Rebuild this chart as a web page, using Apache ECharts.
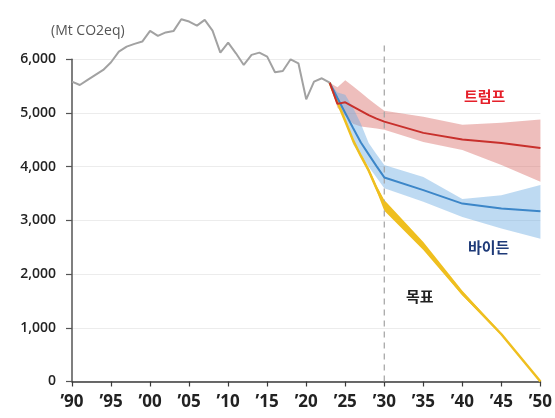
<!DOCTYPE html>
<html><head><meta charset="utf-8">
<script src="https://cdn.jsdelivr.net/npm/echarts@6/dist/echarts.min.js"></script>
<style>html,body{margin:0;padding:0;background:#fff}#c{width:555px;height:418px}</style>
</head><body><div id="c"></div>
<script>
const histYears = [1990,1991,1992,1993,1994,1995,1996,1997,1998,1999,2000,2001,2002,2003,2004,2005,2006,2007,2008,2009,2010,2011,2012,2013,2014,2015,2016,2017,2018,2019,2020,2021,2022,2023];
const histValues = [5584,5522,5616,5709,5802,5945,6144,6237,6287,6330,6530,6437,6500,6525,6746,6703,6628,6735,6535,6124,6311,6112,5895,6082,6125,6050,5759,5783,6000,5925,5255,5584,5647,5565];

const projYears = [2023,2024,2025,2026,2027,2028,2029,2030,2035,2040,2045,2050];
const trump      = [5565,5170,5200,5120,5040,4960,4895,4840,4630,4505,4440,4350];
const trumpLow   = [5565,5100,4950,4800,4750,4730,4710,4690,4460,4310,4030,3720];
const trumpHigh  = [5565,5480,5610,5500,5380,5260,5150,5040,4930,4780,4820,4880];
const biden      = [5565,5280,5000,4720,4450,4230,4010,3800,3563,3313,3220,3172];
const bidenLow   = [5565,5150,4900,4420,4200,4000,3800,3600,3345,3065,2850,2660];
const bidenHigh  = [5565,5380,5340,5100,4800,4440,4230,4030,3810,3400,3470,3660];
const target     = [5565,5200,4850,4490,4200,3930,3600,3300,2520,1640,880,0];
const targetLow  = [5565,5190,4830,4465,4170,3895,3550,3180,2450,1600,860,0];
const targetHigh = [5565,5210,4870,4515,4230,3965,3650,3380,2600,1690,900,0];

const yTicks = [0,1000,2000,3000,4000,5000,6000];
const xTickStep = 5;
const refYear = 2030;
const refTop = 6330;
const unitLabel = '(Mt CO2eq)';
const labels = {trump:'트럼프', biden:'바이든', target:'목표'};

const pair = (xs, ys) => xs.map((x,i)=>[x, ys[i]]);

function band(lo, hi, color){
  return {
    type:'custom', silent:true, z:1, clip:true,
    data:[0],
    renderItem:(params, api)=>{
      const pts = [];
      for (let i=0;i<projYears.length;i++) pts.push(api.coord([projYears[i], hi[i]]));
      for (let i=projYears.length-1;i>=0;i--) pts.push(api.coord([projYears[i], lo[i]]));
      return {type:'polygon', shape:{points:pts}, style:{fill:color, stroke:null}};
    }
  };
}

const chart = echarts.init(document.getElementById('c'), null, {renderer:'canvas'});
const font = '"Open Sans", "Noto Sans", sans-serif';
const narrow = '"Liberation Sans Narrow", "Open Sans", sans-serif';
chart.setOption({
  animation:false,
  textStyle:{fontFamily:font},
  grid:{left:72, right:13, top:59.3, bottom:36.5},
  title:{text:unitLabel, left:46, top:19, textStyle:{fontSize:14, fontWeight:'normal', color:'#555', fontFamily:font}},
  xAxis:{type:'value', min:1990, max:2050, interval:xTickStep,
    axisLine:{show:true, onZero:false, lineStyle:{color:'#3a3a3a', width:1.5}},
    axisTick:{show:true, length:5, lineStyle:{color:'#3a3a3a', width:1.2}},
    splitLine:{show:false},
    axisLabel:{margin:12, fontSize:17, color:'#222', fontWeight:'bold', fontFamily:narrow,
      formatter:v=>'\u2019'+String(v).slice(2)}
  },
  yAxis:{type:'value', min:yTicks[0], max:yTicks[yTicks.length-1], interval:1000,
    axisLine:{show:true, lineStyle:{color:'#555', width:1.5}},
    axisTick:{show:true, length:6, lineStyle:{color:'#555', width:1.2}},
    splitLine:{show:true, lineStyle:{color:'#ececec', width:1}},
    axisLabel:{margin:16, fontSize:14, color:'#222', fontWeight:600, fontFamily:font,
      formatter:v=>v.toLocaleString('en-US')}
  },
  series:[
    band(trumpLow, trumpHigh, 'rgba(214,100,96,0.42)'),
    band(bidenLow, bidenHigh, 'rgba(110,172,226,0.45)'),
    band(targetLow, targetHigh, '#efbf1f'),
    {type:'line', data:[[refYear,0],[refYear,refTop]], symbol:'none', clip:false, silent:true,
      lineStyle:{color:'#a8a8a8', width:1.3, type:[6,5]}, z:2},
    {type:'line', data:pair(histYears, histValues), symbol:'none', clip:false,
      lineStyle:{color:'#a2a2a2', width:2}, z:4},
    {type:'line', data:pair(projYears, target), symbol:'none', lineStyle:{color:'#efbf1f', width:2.5}, z:3},
    {type:'line', data:pair(projYears, biden), symbol:'none', lineStyle:{color:'#3c86c8', width:2}, z:3},
    {type:'line', data:pair(projYears, trump), symbol:'none', lineStyle:{color:'#c8302c', width:2}, z:3}
  ],
  graphic:[
    {type:'text', left:464, top:89, style:{text:labels.trump, fill:'#e5202a', font:'bold 15px "Noto Sans CJK KR", sans-serif'}},
    {type:'text', left:468, top:240, style:{text:labels.biden, fill:'#1e3a78', font:'bold 15px "Noto Sans CJK KR", sans-serif'}},
    {type:'text', left:406, top:289, style:{text:labels.target, fill:'#222', font:'bold 15px "Noto Sans CJK KR", sans-serif'}}
  ]
});
</script></body></html>
